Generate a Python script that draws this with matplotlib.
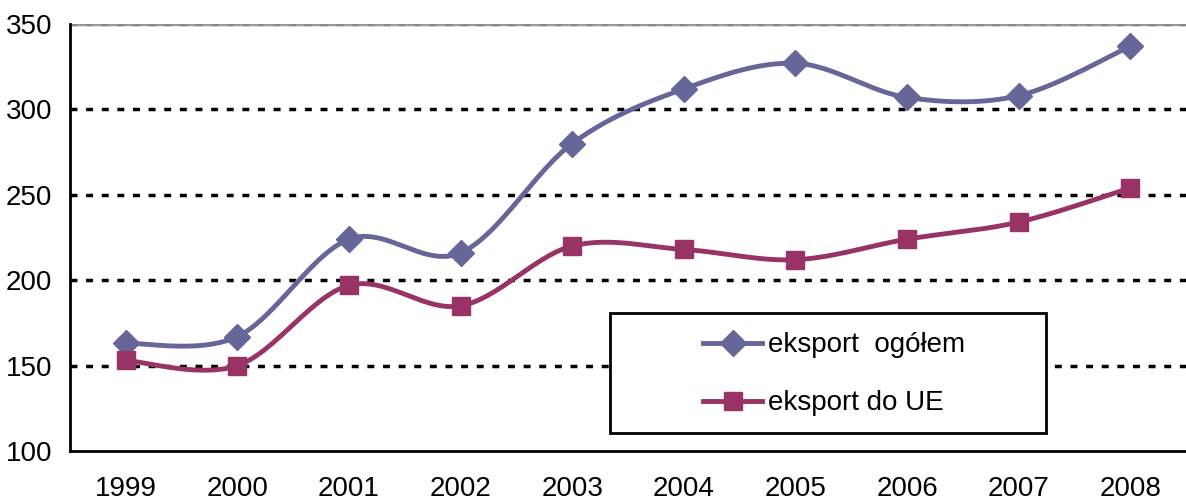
import numpy as np
import matplotlib.pyplot as plt
from matplotlib.patches import Rectangle

plt.rcParams['font.family'] = ['Liberation Sans', 'DejaVu Sans']

# data
years = ["1999", "2000", "2001", "2002", "2003", "2004", "2005", "2006", "2007", "2008"]
eksport_ogolem = [163, 167, 224, 216, 280, 312, 327, 307, 308, 337]
eksport_ue = [153, 150, 197, 185, 220, 218, 212, 224, 234, 254]
yticks = [100, 150, 200, 250, 300, 350]


def smooth(x, y, n=30):
    # Excel-like smoothed line: cubic Bezier, control points at 1/6 of neighbour difference
    x = np.asarray(x, float)
    y = np.asarray(y, float)
    px = np.concatenate([[x[0]], x, [x[-1]]])
    py = np.concatenate([[y[0]], y, [y[-1]]])
    t = np.linspace(0, 1, n)[:, None]
    xs, ys = [], []
    for i in range(len(x) - 1):
        p0 = np.array([px[i + 1], py[i + 1]])
        p3 = np.array([px[i + 2], py[i + 2]])
        c1 = p0 + (np.array([px[i + 2], py[i + 2]]) - np.array([px[i], py[i]])) / 6
        c2 = p3 - (np.array([px[i + 3], py[i + 3]]) - np.array([px[i + 1], py[i + 1]])) / 6
        pts = (1 - t) ** 3 * p0 + 3 * (1 - t) ** 2 * t * c1 + 3 * (1 - t) * t ** 2 * c2 + t ** 3 * p3
        xs.append(pts[:, 0])
        ys.append(pts[:, 1])
    return np.concatenate(xs), np.concatenate(ys)


fig = plt.figure(figsize=(11.86, 5.03), dpi=100)
ax = fig.add_axes([70 / 1186, 52 / 503, 1116 / 1186, 427 / 503])

xpos = np.arange(len(years))
c1 = "#666699"
c2 = "#993366"

for v in yticks[1:-1]:
    ax.axhline(v, color="black", lw=2.5, ls=(0, (2, 2.5)), zorder=1)
ax.axhline(350, color="#999999", lw=2.5, zorder=1)
ax.axhline(350, color="#888888", lw=2.5, ls=(0, (2, 2.5)), zorder=1)

for vals, col, mk, ms, lab in [(eksport_ogolem, c1, "D", 13, "eksport  ogółem"),
                                (eksport_ue, c2, "s", 13, "eksport do UE")]:
    sx, sy = smooth(xpos, vals)
    ax.plot(sx, sy, color=col, lw=3.5, zorder=3, solid_capstyle="round")
    ax.plot(xpos, vals, ls="none", marker=mk, ms=ms, color=col, zorder=4)
    ax.plot([], [], color=col, lw=3.5, marker=mk, ms=ms, label=lab)

ax.set_xlim(-0.5, 9.5)
ax.set_ylim(100, 350)
ax.set_yticks(yticks)
ax.set_xticks(xpos)
ax.set_xticklabels(years)
ax.tick_params(length=0, labelsize=20, pad=18)
ax.tick_params(axis="y", pad=13)
for s in ["top", "right"]:
    ax.spines[s].set_visible(False)
for s in ["left", "bottom"]:
    ax.spines[s].set_linewidth(2)

# legend box drawn as its own frame
ax.add_patch(Rectangle((0.4839, 0.0422), 0.3907, 0.281, transform=ax.transAxes,
                       facecolor="white", edgecolor="black", lw=2, zorder=5))
leg = ax.legend(loc="upper left", bbox_to_anchor=(0.567, 0.278), fontsize=20,
                frameon=False, handlelength=2.15, labelspacing=1.15, borderpad=0,
                handletextpad=0.2, borderaxespad=0)
leg.set_zorder(6)

fig.savefig("out.png", dpi=100)
